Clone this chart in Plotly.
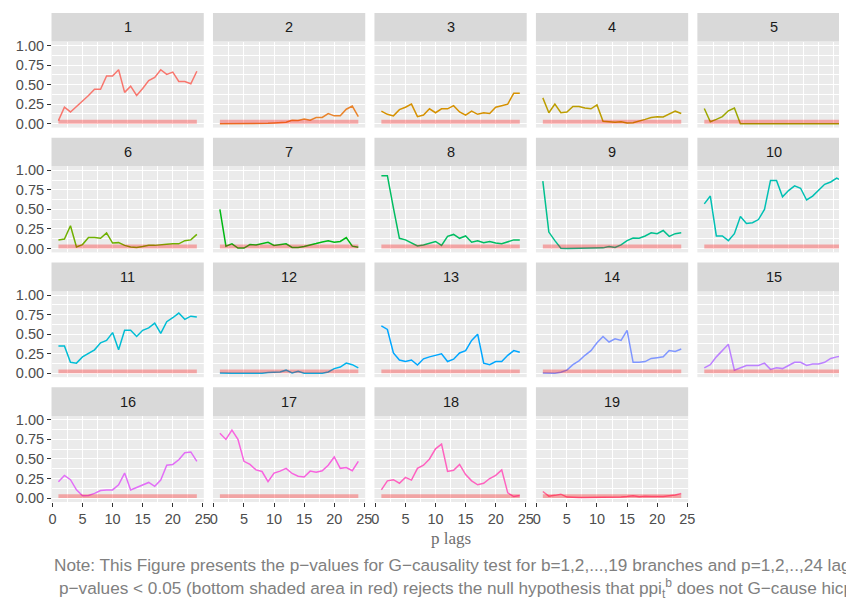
import math
import plotly.graph_objects as go

lags = list(range(1, 25))
branch_labels = [str(i) for i in range(1, 20)]

pv_b01 = [0.04, 0.21, 0.15, 0.22, 0.28, 0.36, 0.44, 0.44, 0.61, 0.61, 0.69, 0.40, 0.48, 0.36, 0.45, 0.55, 0.59, 0.69, 0.63, 0.66, 0.54, 0.54, 0.51, 0.67]
pv_b02 = [0.0, 0.0, 0.0, 0.0, 0.0, 0.0, 0.0, 0.002, 0.005, 0.01, 0.015, 0.02, 0.045, 0.04, 0.06, 0.045, 0.08, 0.08, 0.13, 0.10, 0.10, 0.185, 0.225, 0.09]
pv_b03 = [0.16, 0.12, 0.10, 0.18, 0.21, 0.25, 0.09, 0.11, 0.19, 0.14, 0.19, 0.19, 0.23, 0.15, 0.11, 0.16, 0.12, 0.14, 0.13, 0.21, 0.23, 0.25, 0.39, 0.39]
pv_b04 = [0.33, 0.14, 0.25, 0.14, 0.15, 0.22, 0.22, 0.20, 0.19, 0.24, 0.03, 0.025, 0.02, 0.025, 0.01, 0.013, 0.03, 0.055, 0.08, 0.09, 0.085, 0.12, 0.16, 0.13]
pv_b05 = [0.195, 0.025, 0.055, 0.09, 0.165, 0.20, 0.0, 0.0, 0.0, 0.0, 0.0, 0.0, 0.0, 0.0, 0.0, 0.0, 0.0, 0.0, 0.0, 0.0, 0.0, 0.0, 0.0, 0.0]
pv_b06 = [0.11, 0.12, 0.29, 0.02, 0.05, 0.14, 0.14, 0.13, 0.20, 0.07, 0.075, 0.04, 0.02, 0.013, 0.025, 0.04, 0.04, 0.05, 0.055, 0.06, 0.06, 0.10, 0.11, 0.18]
pv_b07 = [0.50, 0.03, 0.06, 0.005, 0.005, 0.05, 0.046, 0.06, 0.08, 0.04, 0.05, 0.06, 0.013, 0.013, 0.025, 0.04, 0.063, 0.084, 0.10, 0.08, 0.09, 0.14, 0.03, 0.015]
pv_b08 = [0.93, 0.93, 0.52, 0.13, 0.11, 0.075, 0.033, 0.046, 0.067, 0.09, 0.04, 0.155, 0.18, 0.13, 0.16, 0.08, 0.10, 0.075, 0.09, 0.07, 0.06, 0.09, 0.11, 0.11]
pv_b09 = [0.86, 0.21, 0.10, 0.004, 0.0, 0.0, 0.0, 0.008, 0.008, 0.008, 0.008, 0.025, 0.013, 0.046, 0.10, 0.134, 0.13, 0.16, 0.20, 0.19, 0.23, 0.155, 0.19, 0.20]
pv_b10 = [0.57, 0.67, 0.16, 0.16, 0.10, 0.19, 0.41, 0.32, 0.33, 0.37, 0.50, 0.87, 0.87, 0.66, 0.74, 0.80, 0.77, 0.62, 0.67, 0.74, 0.82, 0.85, 0.90, 0.86]
pv_b11 = [0.35, 0.35, 0.14, 0.13, 0.21, 0.25, 0.30, 0.39, 0.42, 0.52, 0.30, 0.55, 0.55, 0.47, 0.55, 0.58, 0.64, 0.51, 0.66, 0.71, 0.77, 0.69, 0.73, 0.72]
pv_b12 = [0.005, 0.0, 0.0, 0.0, 0.0, 0.0, 0.0, 0.002, 0.01, 0.017, 0.017, 0.04, 0.005, 0.025, 0.0, 0.0, 0.0, 0.002, 0.017, 0.06, 0.08, 0.13, 0.11, 0.07]
pv_b13 = [0.605, 0.56, 0.26, 0.17, 0.15, 0.17, 0.105, 0.185, 0.21, 0.23, 0.25, 0.15, 0.18, 0.26, 0.29, 0.42, 0.50, 0.13, 0.11, 0.15, 0.15, 0.23, 0.29, 0.27]
pv_b14 = [0.004, 0.004, 0.0, 0.013, 0.04, 0.11, 0.16, 0.23, 0.29, 0.39, 0.47, 0.40, 0.44, 0.42, 0.55, 0.14, 0.14, 0.15, 0.19, 0.20, 0.21, 0.29, 0.28, 0.31]
pv_b15 = [0.07, 0.11, 0.21, 0.29, 0.37, 0.04, 0.07, 0.10, 0.10, 0.10, 0.13, 0.05, 0.07, 0.06, 0.10, 0.14, 0.14, 0.10, 0.12, 0.12, 0.14, 0.19, 0.21, 0.22]
pv_b16 = [0.21, 0.29, 0.235, 0.105, 0.03, 0.034, 0.06, 0.097, 0.105, 0.105, 0.17, 0.32, 0.105, 0.14, 0.17, 0.20, 0.15, 0.23, 0.42, 0.43, 0.49, 0.58, 0.59, 0.47]
pv_b17 = [0.83, 0.75, 0.87, 0.75, 0.47, 0.43, 0.36, 0.34, 0.21, 0.32, 0.345, 0.38, 0.315, 0.28, 0.27, 0.345, 0.33, 0.35, 0.42, 0.525, 0.38, 0.39, 0.35, 0.47]
pv_b18 = [0.105, 0.22, 0.235, 0.19, 0.265, 0.23, 0.38, 0.42, 0.50, 0.63, 0.69, 0.34, 0.355, 0.43, 0.30, 0.22, 0.17, 0.19, 0.25, 0.29, 0.36, 0.067, 0.02, 0.034]
pv_b19 = [0.084, 0.025, 0.035, 0.05, 0.013, 0.008, 0.008, 0.008, 0.008, 0.008, 0.01, 0.01, 0.013, 0.015, 0.02, 0.03, 0.017, 0.025, 0.02, 0.017, 0.02, 0.03, 0.04, 0.06]

series = [pv_b01, pv_b02, pv_b03, pv_b04, pv_b05, pv_b06, pv_b07, pv_b08, pv_b09, pv_b10,
          pv_b11, pv_b12, pv_b13, pv_b14, pv_b15, pv_b16, pv_b17, pv_b18, pv_b19]

band_x = [1, 24, 24, 1, 1]
band_y = [0, 0, 0.05, 0.05, 0]
x_ticks = [0, 5, 10, 15, 20, 25]
y_ticks = [0, 0.25, 0.5, 0.75, 1.0]

caption_1 = "Note: This Figure presents the p\u2212values for G\u2212causality test for b=1,2,...,19 branches and p=1,2,..,24 lags"
caption_2 = ("p\u2212values < 0.05 (bottom shaded area in red) rejects the null hypothesis that "
             "ppi<sub>t</sub><sup>b</sup> does not G\u2212cause hicp<sub>t</sub><sup>b</sup>")


def hcl_to_hex(h, c=100.0, l=65.0):
    hr = math.radians(h)
    U, V = c * math.cos(hr), c * math.sin(hr)
    Xn, Yn, Zn = 95.047, 100.0, 108.883
    den = Xn + 15 * Yn + 3 * Zn
    un, vn = 4 * Xn / den, 9 * Yn / den
    Y = Yn * ((l + 16) / 116) ** 3 if l > 8 else Yn * l / 903.3
    up = U / (13 * l) + un
    vp = V / (13 * l) + vn
    X = 9 * Y * up / (4 * vp)
    Z = Y * (12 - 3 * up - 20 * vp) / (4 * vp)
    X, Y, Z = X / 100, Y / 100, Z / 100
    r = 3.2404542 * X - 1.5371385 * Y - 0.4985314 * Z
    g = -0.9692660 * X + 1.8760108 * Y + 0.0415560 * Z
    b = 0.0556434 * X - 0.2040259 * Y + 1.0572252 * Z

    def gam(v):
        v = 12.92 * v if v <= 0.0031308 else 1.055 * v ** (1 / 2.4) - 0.055
        return int(round(min(1, max(0, v)) * 255))
    return "#%02X%02X%02X" % (gam(r), gam(g), gam(b))


n = len(series)
hues = [15 + i * 360 / n for i in range(n)]
colors = [hcl_to_hex(h) for h in hues]

W, H = 846, 606
col_x0 = 50.0
col_step = 163.4
ppu_x = 6.09
row_y0 = 121.3
row_step = 126.47
ppu_y = 79.3
strip_h = 29.0

fig = go.Figure()
shapes = []
annotations = []

for i, vals in enumerate(series):
    r, c = divmod(i, 5)
    k = i + 1
    xa = "x" if k == 1 else f"x{k}"
    ya = "y" if k == 1 else f"y{k}"
    x0 = col_x0 + c * col_step
    left = x0 - 0.15 * ppu_x
    right = x0 + 25.15 * ppu_x
    xr_hi = 25.15
    if right > W:
        right = W
        xr_hi = (W - x0) / ppu_x
    y0 = row_y0 + r * row_step
    top = y0 - 1.05 * ppu_y
    bottom = y0 + 0.05 * ppu_y

    fig.add_trace(go.Scatter(x=lags, y=vals, mode="lines",
                             line=dict(color=colors[i], width=1.5),
                             xaxis=xa, yaxis=ya, showlegend=False, hoverinfo="skip"))
    fig.add_trace(go.Scatter(x=band_x, y=band_y, mode="lines", fill="toself",
                             fillcolor="rgba(255,0,0,0.3)", line=dict(width=0),
                             xaxis=xa, yaxis=ya, showlegend=False, hoverinfo="skip"))

    show_x = i >= 15
    show_y = c == 0
    xkey = "xaxis" if k == 1 else f"xaxis{k}"
    ykey = "yaxis" if k == 1 else f"yaxis{k}"
    fig.update_layout(**{
        xkey: dict(domain=[left / W, right / W], anchor=ya, range=[-0.15, xr_hi],
                   tickvals=x_ticks, ticktext=[str(t) for t in x_ticks],
                   showticklabels=show_x, ticks="outside" if show_x else "",
                   ticklen=3.5, tickwidth=1.1, tickcolor="#333333",
                   tickfont=dict(family="Liberation Sans, Arial", size=14.5, color="#4D4D4D"),
                   showgrid=True, gridcolor="white", gridwidth=1.2, zeroline=False,
                   showline=False,
                   minor=dict(tickvals=[2.5, 7.5, 12.5, 17.5, 22.5], showgrid=True,
                              gridcolor="white", gridwidth=0.55, ticks="")),
        ykey: dict(domain=[(H - bottom) / H, (H - top) / H], anchor=xa, range=[-0.05, 1.05],
                   tickvals=y_ticks, ticktext=["0.00", "0.25", "0.50", "0.75", "1.00"],
                   showticklabels=show_y, ticks="outside" if show_y else "",
                   ticklen=3.5, tickwidth=1.1, tickcolor="#333333",
                   tickfont=dict(family="Liberation Sans, Arial", size=14.5, color="#4D4D4D"),
                   showgrid=True, gridcolor="white", gridwidth=1.2, zeroline=False,
                   showline=False,
                   minor=dict(tickvals=[0.125, 0.375, 0.625, 0.875], showgrid=True,
                              gridcolor="white", gridwidth=0.55, ticks="")),
    })

    shapes.append(dict(type="rect", xref="paper", yref="paper",
                       x0=left / W, x1=right / W,
                       y0=(H - top) / H, y1=(H - top + strip_h) / H,
                       fillcolor="#D9D9D9", line=dict(width=0), layer="below"))
    annotations.append(dict(text=branch_labels[i], xref="paper", yref="paper",
                            x=(x0 + 12.5 * ppu_x) / W, y=(H - top + strip_h / 2) / H,
                            xanchor="center", yanchor="middle", showarrow=False,
                            font=dict(family="Liberation Sans, Arial", size=14.5, color="#1A1A1A")))

annotations.append(dict(text="p lags", xref="paper", yref="paper",
                        x=453 / W, y=(H - 542) / H, xanchor="center", yanchor="middle",
                        showarrow=False,
                        font=dict(family="Liberation Serif, Times New Roman, serif", size=17, color="#6E6E6E")))
annotations.append(dict(text=caption_1, xref="paper", yref="paper",
                        x=50 / W, y=(H - 569) / H, xanchor="left", yanchor="middle",
                        showarrow=False,
                        font=dict(family="Liberation Sans, Arial", size=17.2, color="#808080")))
annotations.append(dict(text=caption_2, xref="paper", yref="paper",
                        x=55 / W, y=(H - 592) / H, xanchor="left", yanchor="middle",
                        showarrow=False,
                        font=dict(family="Liberation Sans, Arial", size=17.2, color="#808080")))

fig.update_layout(width=W, height=H, autosize=False,
                  margin=dict(l=0, r=0, t=0, b=0),
                  paper_bgcolor="white", plot_bgcolor="#EBEBEB",
                  shapes=shapes, annotations=annotations, showlegend=False)

fig.write_html("out.html")
